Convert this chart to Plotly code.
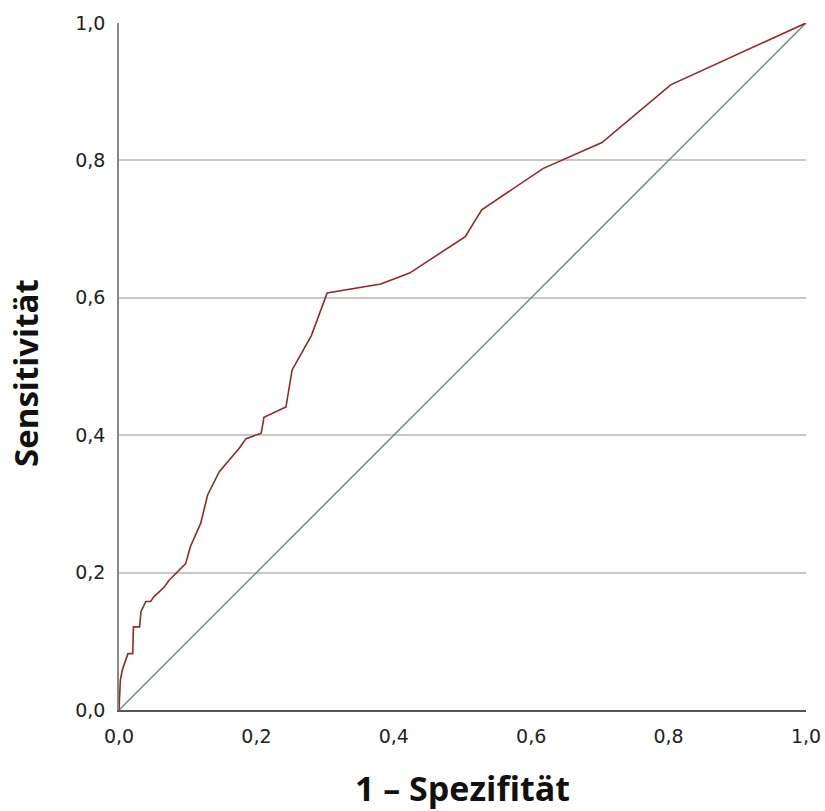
import plotly.graph_objects as go

# ROC curve (1 - Spezifität, Sensitivität)
fpr = [0.0, 0.002, 0.005, 0.013, 0.020, 0.021, 0.030, 0.032, 0.039, 0.046, 0.051,
       0.066, 0.073, 0.097, 0.104, 0.112, 0.119, 0.129, 0.146, 0.175, 0.185,
       0.207, 0.211, 0.243, 0.252, 0.280, 0.303, 0.381, 0.423, 0.504, 0.528,
       0.617, 0.703, 0.803, 1.0]
tpr = [0.0, 0.044, 0.059, 0.082, 0.082, 0.121, 0.121, 0.143, 0.158, 0.158, 0.165,
       0.179, 0.189, 0.213, 0.238, 0.257, 0.272, 0.313, 0.347, 0.381, 0.395,
       0.403, 0.426, 0.441, 0.495, 0.545, 0.607, 0.620, 0.636, 0.689, 0.728,
       0.788, 0.826, 0.910, 1.0]
ref_x = [0.0, 1.0]
ref_y = [0.0, 1.0]
tick_vals = [0.0, 0.2, 0.4, 0.6, 0.8, 1.0]
tick_text = ["0,0", "0,2", "0,4", "0,6", "0,8", "1,0"]

fig = go.Figure()
fig.add_trace(go.Scatter(x=ref_x, y=ref_y, mode="lines",
                         line=dict(color="#6f8a82", width=1.5), showlegend=False))
fig.add_trace(go.Scatter(x=fpr, y=tpr, mode="lines",
                         line=dict(color="#8e2a2a", width=1.6), showlegend=False))

fig.update_layout(
    width=825, height=811,
    margin=dict(l=119, r=19, t=23, b=101),
    plot_bgcolor="white", paper_bgcolor="white",
    font=dict(family="DejaVu Sans", color="#222222"),
    annotations=[dict(
        text="<b>Sensitivität</b>", xref="paper", yref="paper",
        x=-0.136, y=0.49, xanchor="center", yanchor="middle",
        textangle=-90, showarrow=False,
        font=dict(family="Open Sans", size=33, color="#111111"),
    )],
)
fig.update_xaxes(
    range=[0, 1], tickvals=tick_vals, ticktext=tick_text, automargin=False,
    showgrid=False, zeroline=False, showline=True, linecolor="#555555", linewidth=2,
    ticks="", ticklabelstandoff=8, ticklabeloverflow="allow",
    tickfont=dict(size=19, color="#222222"),
    title=dict(text="<b>1 – Spezifität</b>", font=dict(family="Open Sans", size=34, color="#111111"),
               standoff=40),
)
fig.update_yaxes(
    range=[0, 1], tickvals=tick_vals, ticktext=tick_text, automargin=False,
    showgrid=True, gridcolor="#c8c8c8", gridwidth=2, zeroline=False,
    showline=True, linecolor="#888888", linewidth=1.5,
    ticks="", ticklabelstandoff=8, tickfont=dict(size=19, color="#222222"),
)

fig.write_html(
    "out.html",
    config={"displayModeBar": False},
    post_script="document.body.style.margin='0';document.body.style.overflow='hidden';",
)
